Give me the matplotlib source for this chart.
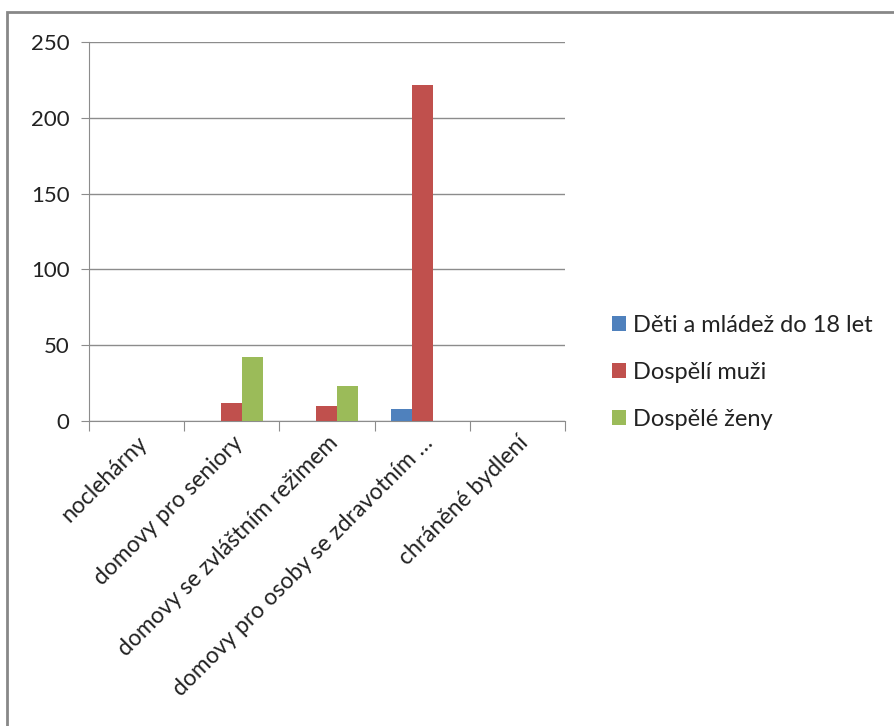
import numpy as np
import matplotlib.pyplot as plt
from matplotlib.patches import Rectangle

categories = ["noclehárny", "domovy pro seniory", "domovy se zvláštním režimem",
              "domovy pro osoby se zdravotním …", "chráněné bydlení"]
series = ["Děti a mládež do 18 let", "Dospělí muži", "Dospělé ženy"]
deti = [0, 0, 0, 8, 0]
muzi = [0, 12, 10, 222, 0]
zeny = [0, 42, 23, 0, 0]
colors = ["#4F81BD", "#C0504D", "#9BBB59"]

plt.rcParams['font.family'] = ['Lato', 'DejaVu Sans']

fig = plt.figure(figsize=(8.95, 7.26), dpi=100)
ax = fig.add_axes([0.0994, 0.420, 0.5318, 0.522])

x = np.arange(len(categories))
w = 0.22
for i, (vals, c) in enumerate(zip([deti, muzi, zeny], colors)):
    ax.bar(x + (i - 1) * w, vals, w, color=c, label=series[i], zorder=3)

ax.set_xlim(-0.5, len(categories) - 0.5)
ax.set_ylim(0, 250)
ax.set_yticks(range(0, 251, 50))
ax.yaxis.grid(True, color="#8c8c8c", lw=1, zorder=0)
ax.tick_params(axis='y', length=6, color="#8c8c8c", labelsize=16, pad=8,
               labelcolor="#222222")

# category boundary ticks
ax.set_xticks(np.arange(-0.5, len(categories)), minor=False)
ax.set_xticklabels([])
ax.tick_params(axis='x', length=7, color="#8c8c8c")
ax.set_xticks(x, minor=True)
ax.set_xticklabels(categories, minor=True, rotation=45, ha='right',
                   rotation_mode='anchor', fontsize=16.5, color="#222222")
ax.tick_params(axis='x', which='minor', length=0, pad=8)

for s in ['top', 'right']:
    ax.spines[s].set_visible(False)
for s in ['left', 'bottom']:
    ax.spines[s].set_color("#8c8c8c")

leg = fig.legend(loc='center left', bbox_to_anchor=(0.66, 0.487), frameon=False,
                 fontsize=17, handlelength=0.6, handleheight=0.6, handletextpad=0.3,
                 labelspacing=1.1)
for t in leg.get_texts():
    t.set_color("#222222")

fig.patches.append(Rectangle((7 / 895, -0.01), 1.0, 1 - 12 / 726 + 0.01,
                             transform=fig.transFigure, fill=False,
                             edgecolor="#888888", lw=2))

fig.savefig("out.png")
